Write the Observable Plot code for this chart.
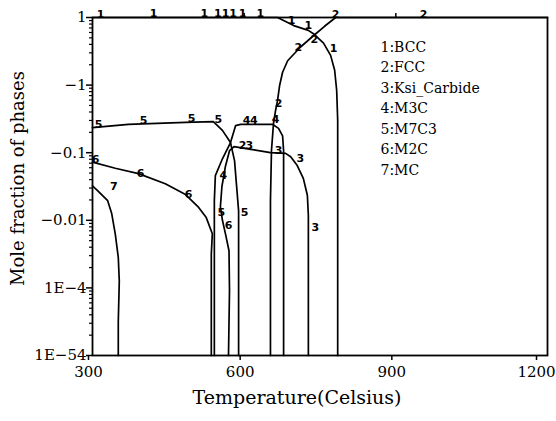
<!DOCTYPE html>
<html>
<head>
<meta charset="utf-8">
<script src="https://cdn.jsdelivr.net/npm/d3@7"></script>
<script src="https://cdn.jsdelivr.net/npm/@observablehq/plot@0.6"></script>
<style>
  html, body { margin: 0; padding: 0; background: #fff; }
  svg { display: block; }
</style>
</head>
<body>
<div id="chart"></div>
<script>
// ---- Data (temperature in °C, y = position on the chart's decade scale, 0 = "1E-54" ... 5 = "1") ----
const xTicks = [300, 600, 900, 1200];
const yTickValues = [0, 1, 2, 3, 4, 5];
const yTickLabels = ["1E\u221254", "1E\u22124", "\u22120.01", "\u22120.1", "\u22121", "1"];

const legendItems = ["BCC", "FCC", "Ksi_Carbide", "M3C", "M7C3", "M2C", "MC"];

const bcc = [[300,5],[666,5],[682,4.94],[698,4.88],[727,4.81],[737,4.76],[757,4.62],[771,4.44],[779,4.22],[783,3.92],[785,3.48],[785,2.29],[785,0]];
const fcc = [[652,0],[652,2.29],[654,3.03],[658,3.43],[662,3.62],[666,3.77],[670,3.99],[676,4.19],[686,4.36],[711,4.56],[737,4.73],[759,4.87],[781,5],[1200,5]];
const ksi = [[569,0],[571,0.96],[570,1.55],[563,1.80],[557,2.0],[553,2.2],[556,2.5],[563,2.8],[571,3.03],[580,3.09],[613,3.05],[652,3.0],[682,2.99],[692,2.94],[705,2.81],[717,2.62],[725,2.37],[727,2.07],[727,0]];
const m3c = [[541,0],[541,2.29],[543,2.66],[557,2.91],[573,3.15],[583,3.40],[593,3.42],[656,3.42],[668,3.36],[676,3.25],[678,3.03],[678,0]];
const m7c3 = [[300,3.37],[371,3.42],[484,3.45],[539,3.46],[557,3.33],[573,3.15],[581,2.88],[585,2.51],[589,2.14],[589,0]];
const m2c = [[300,2.86],[345,2.77],[391,2.69],[444,2.54],[484,2.38],[510,2.19],[525,2.04],[537,1.80],[535,1.5],[535,0]];
const mc = [[300,2.51],[310,2.44],[330,2.29],[338,2.10],[345,1.80],[351,1.45],[353,1.1],[351,0.5],[351,0]];

const phaseCurves = [bcc, fcc, ksi, m3c, m7c3, m2c, mc];

// curve number labels: [text, T, y]
const curveLabels = [
  ["1",316,5.05],["1",421,5.06],["1",521,5.06],["1",548,5.06],["1",563,5.06],["1",578,5.06],["1",597,5.06],["1",632,5.06],
  ["1",694,4.95],["1",727,4.88],["1",777,4.54],
  ["2",707,4.56],["2",668,3.73],["2",739,4.67],["2",781,5.04],["2",955,5.05],["2",597,3.1],
  ["3",610,3.1],["3",668,3.04],["3",711,2.92],["3",741,1.89],
  ["4",559,2.66],["4",605,3.47],["4",619,3.47],["4",662,3.49],
  ["5",312,3.42],["5",401,3.48],["5",496,3.51],["5",549,3.49],["5",601,2.11],["5",555,2.12],
  ["6",306,2.9],["6",395,2.69],["6",490,2.38],["6",569,1.93],
  ["7",342,2.5]
];

// ---- build tables ----
const lineData = phaseCurves.flatMap((pts, i) => pts.map(([T, y]) => ({T, y, phase: legendItems[i]})));
const labelData = curveLabels.map(([text, T, y]) => ({text, T, y}));
const minorTicks = [];
for (let d = 0; d < 5; d++) for (let k = 2; k <= 9; k++) minorTicks.push(d + Math.log10(k));

const serif = "DejaVu Serif";

const chart = Plot.plot({
  width: 556,
  height: 421,
  marginLeft: 92,
  marginRight: 9,
  marginTop: 17,
  marginBottom: 66,
  style: {fontFamily: serif, fontSize: "14px", color: "#000", background: "#fff"},
  x: {domain: [300, 1200]},
  y: {domain: [0, 5]},
  marks: [
    Plot.frame({stroke: "#000", strokeWidth: 1.8}),
    Plot.axisX(xTicks.slice(0, 3), {anchor: "bottom", tickSize: 5, tickPadding: 6, fontSize: 15, dx: -4, tickFormat: (d) => String(d), strokeWidth: 1.5, label: null}),
    Plot.axisX(xTicks.slice(3), {anchor: "bottom", tickSize: 5, tickPadding: 6, fontSize: 15, dx: -11, tickFormat: (d) => String(d), strokeWidth: 1.5, label: null}),
    Plot.axisX(xTicks.slice(1, 3), {anchor: "top", tickSize: 5, tickFormat: () => "", strokeWidth: 1.5, label: null}),
    Plot.axisY(yTickValues, {anchor: "left", tickSize: 6, tickPadding: 0, fontSize: 15, tickFormat: (v) => yTickLabels[v], strokeWidth: 1.5, label: null}),
    Plot.axisY(minorTicks, {anchor: "left", tickSize: 3, tickFormat: () => "", strokeWidth: 1.2, label: null}),
    Plot.line(lineData, {x: "T", y: "y", z: "phase", stroke: "#000", strokeWidth: 1.7, curve: "linear"}),
    Plot.text(labelData, {x: "T", y: "y", text: "text", fontFamily: "DejaVu Sans", fontSize: 11, fontWeight: "bold", fill: "#000"}),
    Plot.text([legendItems.map((d, i) => `${i + 1}:${d}`).join("\n")], {
      frameAnchor: "top-left", dx: 288, dy: 20, lineAnchor: "top", textAnchor: "start",
      lineHeight: 1.46, fontSize: 14, fill: "#000"
    }),
    Plot.text(["Temperature(Celsius)"], {frameAnchor: "bottom", dx: -23, dy: 48, fontSize: 19, fill: "#000"}),
    Plot.text(["Mole fraction of phases"], {frameAnchor: "left", textAnchor: "middle", dx: -74, dy: -8, rotate: -90, fontSize: 18, fill: "#000"})
  ]
});

document.getElementById("chart").appendChild(chart);
</script>
</body>
</html>
